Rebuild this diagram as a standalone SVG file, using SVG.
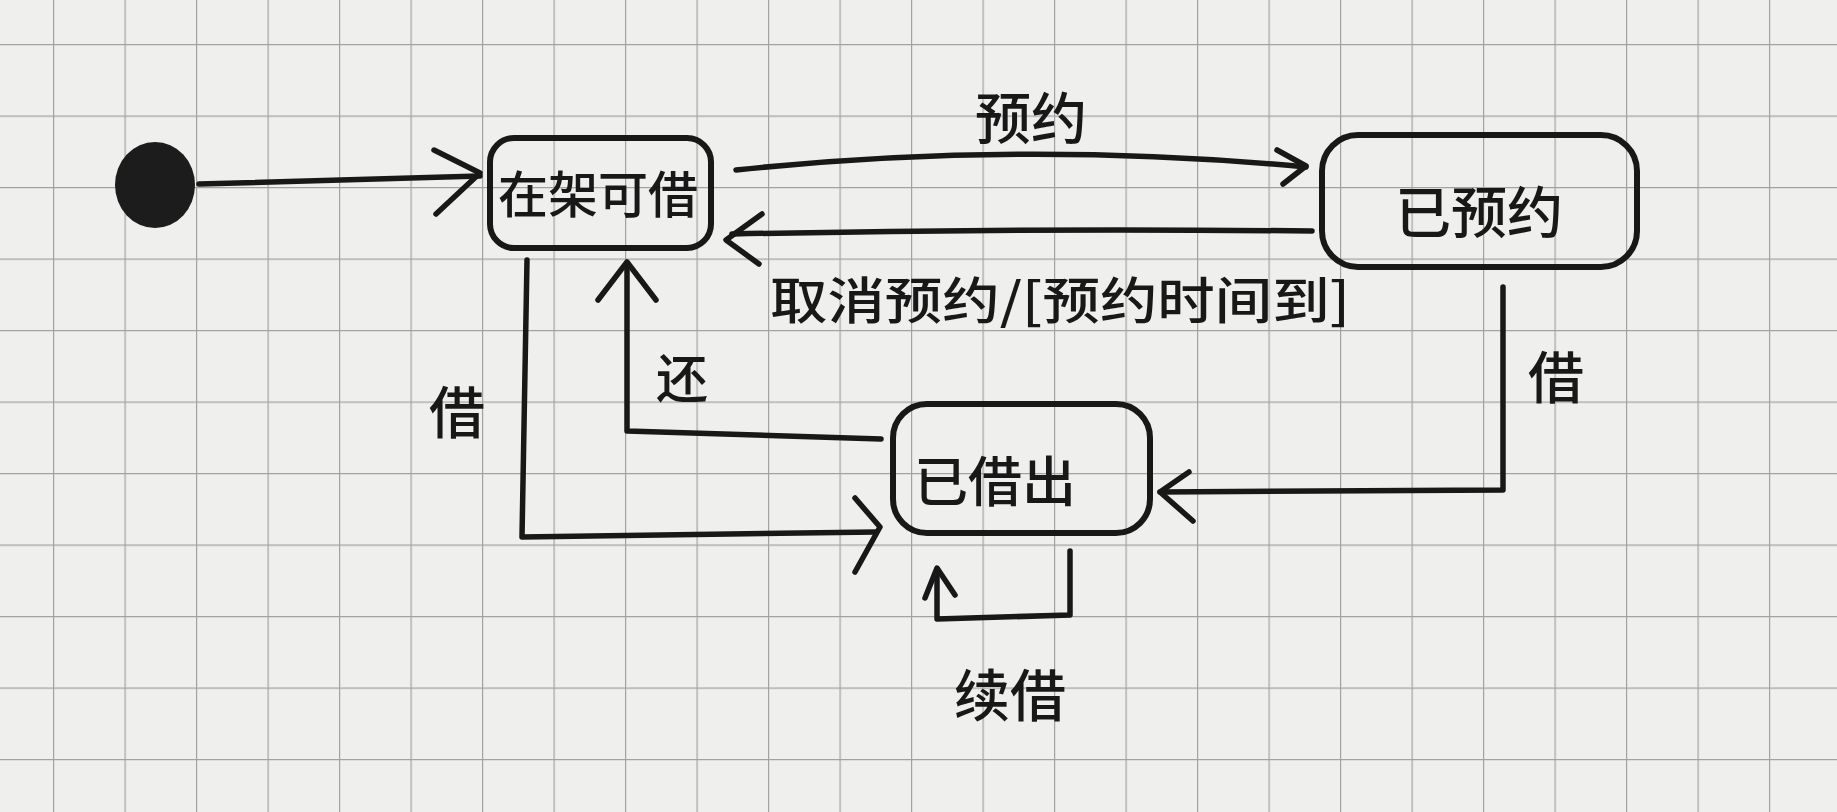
<svg xmlns="http://www.w3.org/2000/svg" width="1837" height="812" viewBox="0 0 1837 812">
<defs>
<pattern id="grid" x="53" y="44" width="71.5" height="71.5" patternUnits="userSpaceOnUse">
<path d="M0 0 H71.5 M0 0 V71.5" fill="none" stroke="#a2a2a2" stroke-width="2.4"/>
</pattern>
<style>
.st{fill:none;stroke:#181818;stroke-width:6;stroke-linecap:round;stroke-linejoin:round}
.ln{fill:none;stroke:#181818;stroke-width:5.5;stroke-linecap:round;stroke-linejoin:round}
.tx{font-family:"Noto Sans CJK SC","Noto Sans",sans-serif;font-weight:500;fill:#181818;text-anchor:middle;dominant-baseline:central}
</style>
</defs>
<rect x="0" y="0" width="1837" height="812" fill="#efefed"/>
<rect x="0" y="0" width="1837" height="812" fill="url(#grid)"/>

<g id="start">
<ellipse cx="155" cy="185" rx="40" ry="43" fill="#1c1c1c"/>
</g>

<g id="node-available">
<rect class="st" x="490" y="138" width="221" height="110" rx="24"/>
<text class="tx" x="598" y="191" font-size="50">在架可借</text>
</g>

<g id="node-reserved">
<rect class="st" x="1322" y="135" width="315" height="132" rx="36"/>
<text class="tx" x="1479" y="208" font-size="56">已预约</text>
</g>

<g id="node-borrowed">
<rect class="st" x="893" y="404" width="257" height="129" rx="34"/>
<text class="tx" x="995" y="478" font-size="54">已借出</text>
</g>

<g id="connectors">
<path class="ln" d="M199 184 L480 176"/>
<path class="ln" d="M434 150 L480 173 L436 214"/>

<path class="ln" d="M736 170 Q1020 140 1306 167"/>
<path class="ln" d="M1277 150 L1306 166 L1283 184"/>

<path class="ln" d="M1312 231 Q1020 228 732 234"/>
<path class="ln" d="M762 214 L726 240 L759 264"/>

<path class="ln" d="M527 260 L522 537 L876 532"/>
<path class="ln" d="M855 498 L880 527 L855 572"/>

<path class="ln" d="M881 439 L627 431 L627 264"/>
<path class="ln" d="M598 300 L627 262 L656 300"/>

<path class="ln" d="M1503 287 L1503 490 L1160 492"/>
<path class="ln" d="M1189 472 L1160 492 L1193 521"/>

<path class="ln" d="M1070 551 L1070 615 L937 619 L937 572"/>
<path class="ln" d="M925 598 L937 568 L955 595"/>
</g>

<g id="labels">
<text class="tx" x="1031" y="114" font-size="56">预约</text>
<text class="tx" x="1060" y="297" font-size="50" textLength="580" lengthAdjust="spacingAndGlyphs">取消预约/[预约时间到]</text>
<text class="tx" x="457" y="408" font-size="56">借</text>
<text class="tx" x="682" y="375" font-size="52">还</text>
<text class="tx" x="1556" y="373" font-size="56">借</text>
<text class="tx" x="1010" y="691" font-size="56">续借</text>
</g>
</svg>
